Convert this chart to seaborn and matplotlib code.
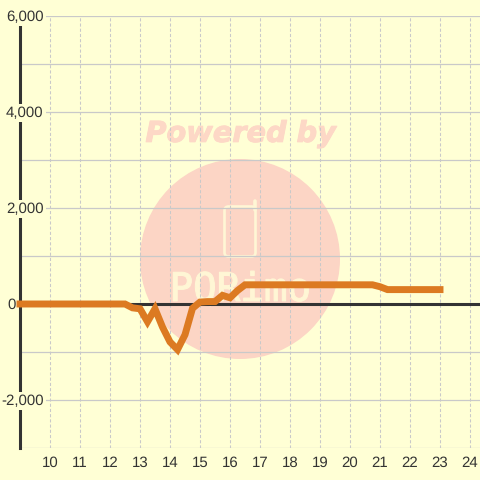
import numpy as np
import pandas as pd
import seaborn as sns
import matplotlib
matplotlib.use("Agg")
import matplotlib.pyplot as plt
import matplotlib.patheffects as pe
from matplotlib.patches import Circle, FancyBboxPatch

# values (hour of day, 15 minute steps around the dip)
hours = [9, 12.5, 12.75, 13, 13.25, 13.5, 13.75, 14, 14.25, 14.5, 14.75, 15, 15.25, 15.5,
         15.75, 16, 16.25, 16.5, 20.75, 21, 21.25, 23]
values = [0, 0, -80, -100, -370, -100, -480, -790, -950, -640, -90, 40, 50, 50,
          180, 130, 280, 400, 400, 360, 300, 300]
y_ticks = [-2000, 0, 2000, 4000, 6000]
y_grid = [-3000, -2000, -1000, 0, 1000, 2000, 3000, 4000, 5000, 6000]
x_ticks = list(range(10, 25))

bg = "#FFFFD5"
text_col = "#333333"
mark_col = "#FFF6D5"
sns.set_style("white")
plt.rcParams["font.family"] = ["Liberation Sans", "DejaVu Sans"]
plt.rcParams["text.hinting"] = "none"
plt.rcParams["text.hinting_factor"] = 1

fig = plt.figure(figsize=(4.8, 4.8), dpi=100, facecolor=bg)

# watermark sits in its own pixel-space axes under the chart
wm = fig.add_axes([0, 0, 1, 1], zorder=0)
wm.set_xlim(0, 480)
wm.set_ylim(480, 0)
wm.axis("off")
wm.add_patch(Circle((240, 259), 100, color="#FCD5C5", lw=0))
wm.add_patch(FancyBboxPatch((224.5, 206.5), 31, 50, boxstyle="round,pad=0,rounding_size=4",
                            fc="none", ec=mark_col, lw=1.9))
wm.plot([254.5, 254.5], [201, 210], color=mark_col, lw=2.6, solid_capstyle="round")
wm.text(241.5, 134, "Powered by", color="#FDD8C6", fontsize=20.7, fontweight="bold", style="italic",
        family="DejaVu Sans", ha="center", va="center",
        path_effects=[pe.withStroke(linewidth=0.7, foreground="#FDD8C6")])
wm.text(240, 271, "PQRimo", color=mark_col, fontsize=28.2, family="DejaVu Sans Mono",
        ha="center", va="top", path_effects=[pe.withStroke(linewidth=0.8, foreground=mark_col)])

ax = fig.add_axes([20 / 480, 32 / 480, 460 / 480, 432 / 480], zorder=1)
ax.set_facecolor("none")

df = pd.DataFrame({"hour": hours, "value": values})
ax.axhline(0, color=text_col, lw=2.2, zorder=1.5)
sns.lineplot(data=df, x="hour", y="value", ax=ax, color="#DC7A22", lw=5, zorder=3,
             errorbar=None, solid_joinstyle="miter", solid_capstyle="projecting", clip_on=False)

ax.set_xlim(9, 9 + 460 / 30)
ax.set_ylim(-3000, 6000)
ax.set_xlabel("")
ax.set_ylabel("")

ax.set_xticks(x_ticks)
ax.set_yticks(y_grid)
ax.set_yticklabels([])
ax.set_axisbelow(True)
ax.grid(axis="y", color="#C9C9C9", lw=0.9, ls="-")
ax.grid(axis="x", color="#C9C9C9", lw=0.75, ls=(0, (3, 2)))
ax.tick_params(axis="x", length=0, pad=6, labelsize=10.5, labelcolor=text_col)
ax.tick_params(axis="y", length=0)

# y labels sit inside the plot and mask the spine and grid; the 0 label goes left of the spine
for v in y_ticks:
    if v == 0:
        ax.annotate("0", xy=(9, 0), xytext=(-4, -1), textcoords="offset pixels", ha="right",
                    va="center", fontsize=10.5, color=text_col, zorder=4)
    else:
        ax.annotate(f"{v:,}", xy=(9, v), xytext=(23.5, -1), textcoords="offset pixels", ha="right",
                    va="center", fontsize=10.5, color=text_col, zorder=4,
                    bbox=dict(fc=bg, ec="none", pad=1.5), annotation_clip=False)

for s in ["top", "right", "bottom"]:
    ax.spines[s].set_visible(False)
ax.spines["left"].set_color(text_col)
ax.spines["left"].set_linewidth(2.2)

fig.savefig("out.png", dpi=100, facecolor=bg)
